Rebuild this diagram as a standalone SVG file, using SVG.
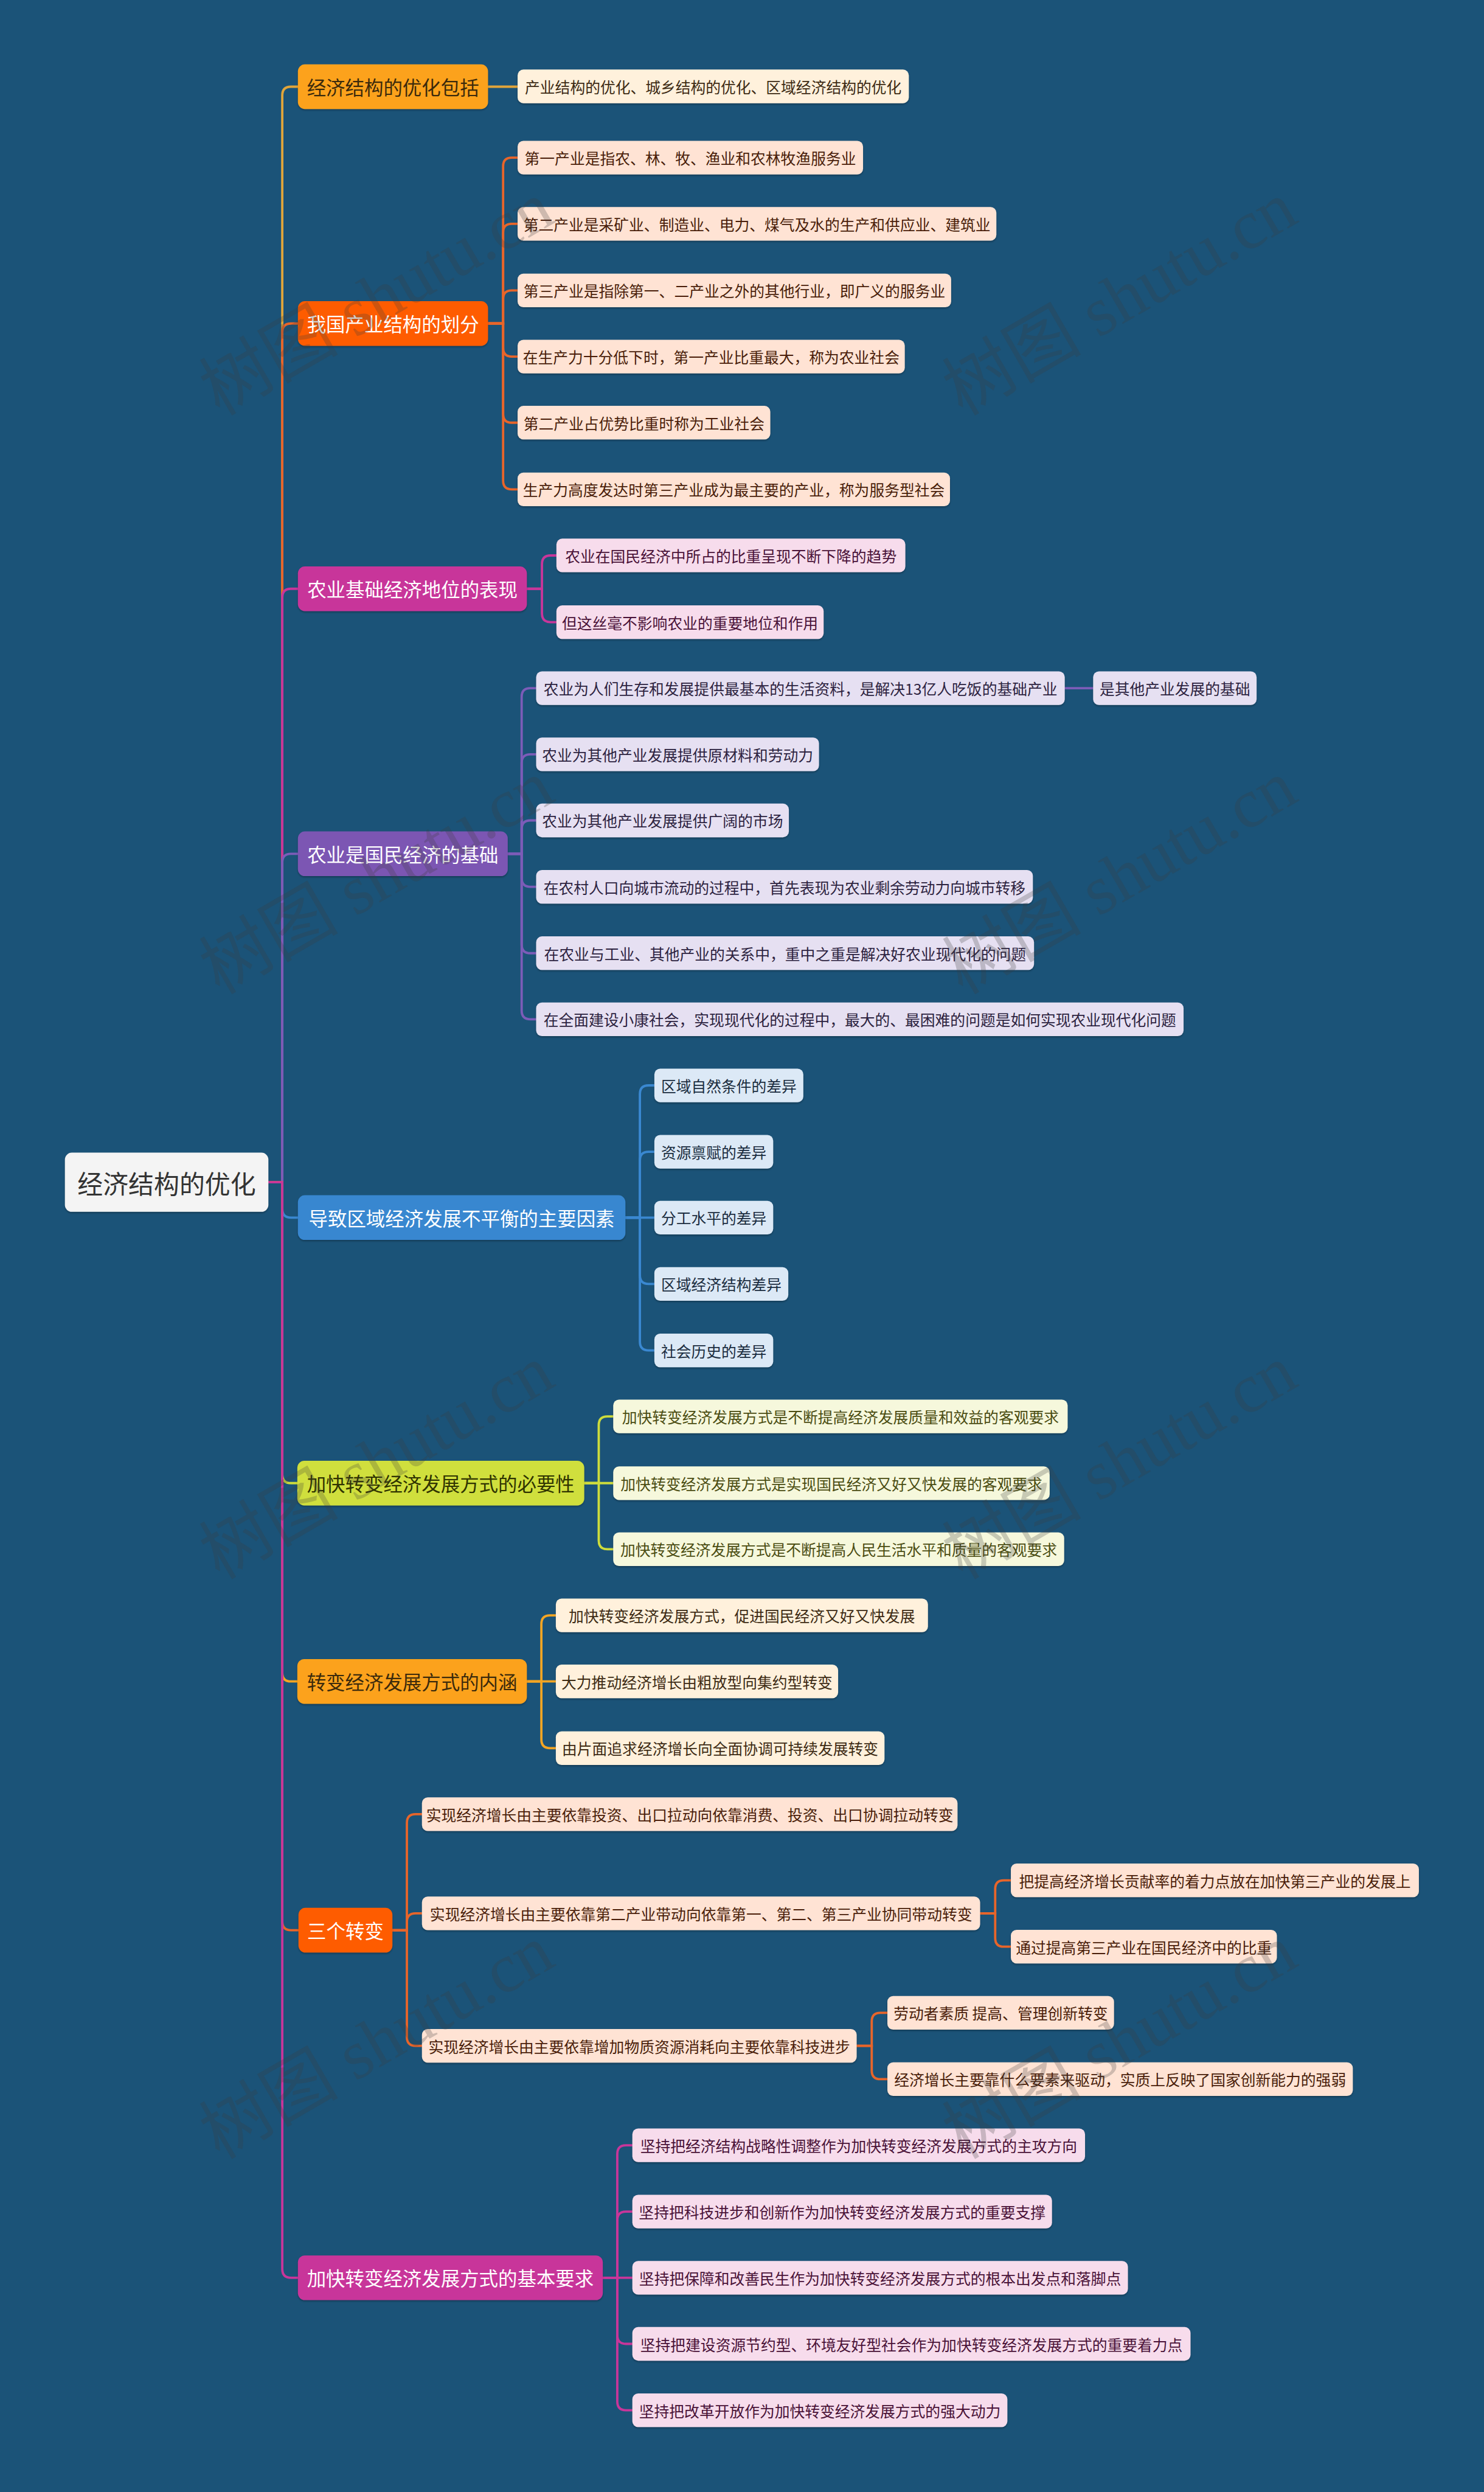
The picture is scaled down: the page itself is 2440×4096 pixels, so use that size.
<svg xmlns="http://www.w3.org/2000/svg" width="2440" height="4096" viewBox="0 0 2440 4096">
<defs>
<filter id="sh" x="-5%" y="-20%" width="110%" height="150%"><feDropShadow dx="0" dy="2" stdDeviation="1.5" flood-color="#000" flood-opacity="0.3"/></filter>
</defs>
<style>
.t{font-family:"Noto Sans CJK SC","Noto Sans",sans-serif;dominant-baseline:central;text-anchor:middle}
.lt{font-size:26px}
.bt{font-size:33px}
.rt{font-size:44px;fill:#333}
.n rect{filter:url(#sh)}
.k path{fill:none;stroke-width:4;stroke-linecap:round}
.wm{font-family:"Liberation Serif","Noto Sans CJK SC",serif;font-size:120px;fill:#3a3a3a;fill-opacity:.25;text-anchor:middle;dominant-baseline:central}
.bo rect{fill:#fca21d}.bo text{fill:#3b2a0c}
.br rect{fill:#fe5c02}.br text{fill:#fff}
.bm rect{fill:#c8369a}.bm text{fill:#fff}
.bp rect{fill:#7c56b3}.bp text{fill:#fff}
.bb rect{fill:#3887d0}.bb text{fill:#fff}
.bl rect{fill:#d0df3c}.bl text{fill:#2f3300}
.c1 rect{fill:#fff1dc}.c1 text{fill:#3d2b14}
.c2 rect{fill:#ffe3d4}.c2 text{fill:#4a1e0a}
.c3 rect{fill:#f7dcec}.c3 text{fill:#4a1238}
.c4 rect{fill:#e6e0f2}.c4 text{fill:#2d2340}
.c5 rect{fill:#dce9f6}.c5 text{fill:#1b2d40}
.c6 rect{fill:#f6f8dc}.c6 text{fill:#4b4d12}
</style>
<rect width="2440" height="4096" fill="#1b5378"/>
<g transform="scale(0.953)">
<g id="connectors" class="k">
<path stroke="#e1a53a" d="M463 2039H487V164.5Q487 149.5 502 149.5H514"/>
<path stroke="#e8652a" d="M463 2039H487V573Q487 558 502 558H514"/>
<path stroke="#c8369a" d="M463 2039H487V1030.5Q487 1015.5 502 1015.5H514"/>
<path stroke="#7c5cb8" d="M463 2039H487V1487.5Q487 1472.5 502 1472.5H514"/>
<path stroke="#3a88d1" d="M463 2039H487V2085Q487 2100 502 2100H514"/>
<path stroke="#cddc3c" d="M463 2039H487V2543Q487 2558 502 2558H513"/>
<path stroke="#f3a523" d="M463 2039H487V2885Q487 2900 502 2900H513"/>
<path stroke="#e8652a" d="M463 2039H487V3314Q487 3329 502 3329H515"/>
<path stroke="#c8369a" d="M463 2039H487V3913.5Q487 3928.5 502 3928.5H514"/>
<path stroke="#e1a53a" d="M842 149.5H893"/>
<path stroke="#e8652a" d="M842 558H868V287Q868 272 883 272H893"/>
<path stroke="#e8652a" d="M842 558H868V401Q868 386 883 386H893"/>
<path stroke="#e8652a" d="M842 558H868V516Q868 501 883 501H893"/>
<path stroke="#e8652a" d="M842 558H868V600Q868 615 883 615H893"/>
<path stroke="#e8652a" d="M842 558H868V714Q868 729 883 729H893"/>
<path stroke="#e8652a" d="M842 558H868V829Q868 844 883 844H893"/>
<path stroke="#c8369a" d="M909 1015.5H935V973Q935 958 950 958H960"/>
<path stroke="#c8369a" d="M909 1015.5H935V1058Q935 1073 950 1073H960"/>
<path stroke="#7c5cb8" d="M876 1472.5H900V1202Q900 1187 915 1187H925"/>
<path stroke="#7c5cb8" d="M876 1472.5H900V1316Q900 1301 915 1301H925"/>
<path stroke="#7c5cb8" d="M876 1472.5H900V1430Q900 1415 915 1415H925"/>
<path stroke="#7c5cb8" d="M876 1472.5H900V1514.5Q900 1529.5 915 1529.5H925"/>
<path stroke="#7c5cb8" d="M876 1472.5H900V1629Q900 1644 915 1644H925"/>
<path stroke="#7c5cb8" d="M876 1472.5H900V1743Q900 1758 915 1758H925"/>
<path stroke="#7c5cb8" d="M1837 1187H1886"/>
<path stroke="#3a88d1" d="M1079 2100H1104V1887Q1104 1872 1119 1872H1129"/>
<path stroke="#3a88d1" d="M1079 2100H1104V2001.5Q1104 1986.5 1119 1986.5H1129"/>
<path stroke="#3a88d1" d="M1079 2100H1129"/>
<path stroke="#3a88d1" d="M1079 2100H1104V2199.5Q1104 2214.5 1119 2214.5H1129"/>
<path stroke="#3a88d1" d="M1079 2100H1104V2314Q1104 2329 1119 2329H1129"/>
<path stroke="#cddc3c" d="M1008 2558H1033V2458Q1033 2443 1048 2443H1058"/>
<path stroke="#cddc3c" d="M1008 2558H1058"/>
<path stroke="#cddc3c" d="M1008 2558H1033V2657Q1033 2672 1048 2672H1058"/>
<path stroke="#f3a523" d="M909 2900H934V2801Q934 2786 949 2786H959"/>
<path stroke="#f3a523" d="M909 2900H959"/>
<path stroke="#f3a523" d="M909 2900H934V3000Q934 3015 949 3015H959"/>
<path stroke="#e8652a" d="M677 3329H702V3144Q702 3129 717 3129H728"/>
<path stroke="#e8652a" d="M677 3329H702V3315Q702 3300 717 3300H728"/>
<path stroke="#e8652a" d="M677 3329H702V3513.5Q702 3528.5 717 3528.5H728"/>
<path stroke="#e8652a" d="M1691 3300H1717V3258Q1717 3243 1732 3243H1744"/>
<path stroke="#e8652a" d="M1691 3300H1717V3342.5Q1717 3357.5 1732 3357.5H1744"/>
<path stroke="#e8652a" d="M1478 3528.5H1504V3486.5Q1504 3471.5 1519 3471.5H1531"/>
<path stroke="#e8652a" d="M1478 3528.5H1504V3571Q1504 3586 1519 3586H1531"/>
<path stroke="#c8369a" d="M1040 3928.5H1065V3715Q1065 3700 1080 3700H1091"/>
<path stroke="#c8369a" d="M1040 3928.5H1065V3829.5Q1065 3814.5 1080 3814.5H1091"/>
<path stroke="#c8369a" d="M1040 3928.5H1091"/>
<path stroke="#c8369a" d="M1040 3928.5H1065V4027.5Q1065 4042.5 1080 4042.5H1091"/>
<path stroke="#c8369a" d="M1040 3928.5H1065V4142Q1065 4157 1080 4157H1091"/>
</g>

<g id="root" class="n"><rect x="112" y="1988" width="351" height="102" rx="12" fill="#f4f4f4"/><text x="287.5" y="2039" class="t rt">经济结构的优化</text></g>

<g id="b1" class="n bo"><rect x="514" y="111" width="328" height="77" rx="12"/><text x="678" y="149.5" class="t bt">经济结构的优化包括</text></g>
<g id="b2" class="n br"><rect x="514" y="519.5" width="328" height="77" rx="12"/><text x="678" y="558" class="t bt">我国产业结构的划分</text></g>
<g id="b3" class="n bm"><rect x="514" y="977" width="395" height="77" rx="12"/><text x="711.5" y="1015.5" class="t bt">农业基础经济地位的表现</text></g>
<g id="b4" class="n bp"><rect x="514" y="1434" width="362" height="77" rx="12"/><text x="695" y="1472.5" class="t bt">农业是国民经济的基础</text></g>
<g id="b5" class="n bb"><rect x="514" y="2061.5" width="565" height="77" rx="12"/><text x="796.5" y="2100" class="t bt">导致区域经济发展不平衡的主要因素</text></g>
<g id="b6" class="n bl"><rect x="513" y="2519.5" width="495" height="77" rx="12"/><text x="760.5" y="2558" class="t bt">加快转变经济发展方式的必要性</text></g>
<g id="b7" class="n bo"><rect x="513" y="2861.5" width="396" height="77" rx="12"/><text x="711" y="2900" class="t bt">转变经济发展方式的内涵</text></g>
<g id="b8" class="n br"><rect x="515" y="3290.5" width="162" height="77" rx="12"/><text x="596" y="3329" class="t bt">三个转变</text></g>
<g id="b9" class="n bm"><rect x="514" y="3890" width="526" height="77" rx="12"/><text x="777" y="3928.5" class="t bt">加快转变经济发展方式的基本要求</text></g>

<g id="l1-1" class="n c1"><rect x="893" y="120" width="675" height="58" rx="10"/><text x="1230.5" y="149" class="t lt">产业结构的优化、城乡结构的优化、区域经济结构的优化</text></g>

<g id="l2-1" class="n c2"><rect x="893" y="243" width="596" height="58" rx="10"/><text x="1191" y="272" class="t lt">第一产业是指农、林、牧、渔业和农林牧渔服务业</text></g>
<g id="l2-2" class="n c2"><rect x="893" y="357" width="826" height="58" rx="10"/><text x="1306" y="386" class="t lt">第二产业是采矿业、制造业、电力、煤气及水的生产和供应业、建筑业</text></g>
<g id="l2-3" class="n c2"><rect x="893" y="472" width="748" height="58" rx="10"/><text x="1267" y="501" class="t lt">第三产业是指除第一、二产业之外的其他行业，即广义的服务业</text></g>
<g id="l2-4" class="n c2"><rect x="893" y="586" width="668" height="58" rx="10"/><text x="1227" y="615" class="t lt">在生产力十分低下时，第一产业比重最大，称为农业社会</text></g>
<g id="l2-5" class="n c2"><rect x="893" y="700" width="436" height="58" rx="10"/><text x="1111" y="729" class="t lt">第二产业占优势比重时称为工业社会</text></g>
<g id="l2-6" class="n c2"><rect x="893" y="815" width="746" height="58" rx="10"/><text x="1266" y="844" class="t lt">生产力高度发达时第三产业成为最主要的产业，称为服务型社会</text></g>

<g id="l3-1" class="n c3"><rect x="960" y="929" width="602" height="58" rx="10"/><text x="1261" y="958" class="t lt">农业在国民经济中所占的比重呈现不断下降的趋势</text></g>
<g id="l3-2" class="n c3"><rect x="960" y="1044" width="461" height="58" rx="10"/><text x="1190.5" y="1073" class="t lt">但这丝毫不影响农业的重要地位和作用</text></g>

<g id="l4-1" class="n c4"><rect x="925" y="1158" width="912" height="58" rx="10"/><text x="1381" y="1187" class="t lt">农业为人们生存和发展提供最基本的生活资料，是解决13亿人吃饭的基础产业</text></g>
<g id="l4-1a" class="n c4"><rect x="1886" y="1158" width="282" height="58" rx="10"/><text x="2027" y="1187" class="t lt">是其他产业发展的基础</text></g>
<g id="l4-2" class="n c4"><rect x="925" y="1272" width="488" height="58" rx="10"/><text x="1169" y="1301" class="t lt">农业为其他产业发展提供原材料和劳动力</text></g>
<g id="l4-3" class="n c4"><rect x="925" y="1386" width="436" height="58" rx="10"/><text x="1143" y="1415" class="t lt">农业为其他产业发展提供广阔的市场</text></g>
<g id="l4-4" class="n c4"><rect x="925" y="1500.5" width="857" height="58" rx="10"/><text x="1353.5" y="1529.5" class="t lt">在农村人口向城市流动的过程中，首先表现为农业剩余劳动力向城市转移</text></g>
<g id="l4-5" class="n c4"><rect x="925" y="1615" width="859" height="58" rx="10"/><text x="1354.5" y="1644" class="t lt">在农业与工业、其他产业的关系中，重中之重是解决好农业现代化的问题</text></g>
<g id="l4-6" class="n c4"><rect x="925" y="1729" width="1117" height="58" rx="10"/><text x="1483.5" y="1758" class="t lt">在全面建设小康社会，实现现代化的过程中，最大的、最困难的问题是如何实现农业现代化问题</text></g>

<g id="l5-1" class="n c5"><rect x="1129" y="1843" width="257" height="58" rx="10"/><text x="1257.5" y="1872" class="t lt">区域自然条件的差异</text></g>
<g id="l5-2" class="n c5"><rect x="1129" y="1957.5" width="205" height="58" rx="10"/><text x="1231.5" y="1986.5" class="t lt">资源禀赋的差异</text></g>
<g id="l5-3" class="n c5"><rect x="1129" y="2071" width="205" height="58" rx="10"/><text x="1231.5" y="2100" class="t lt">分工水平的差异</text></g>
<g id="l5-4" class="n c5"><rect x="1129" y="2185.5" width="231" height="58" rx="10"/><text x="1244.5" y="2214.5" class="t lt">区域经济结构差异</text></g>
<g id="l5-5" class="n c5"><rect x="1129" y="2300" width="205" height="58" rx="10"/><text x="1231.5" y="2329" class="t lt">社会历史的差异</text></g>

<g id="l6-1" class="n c6"><rect x="1058" y="2414" width="784" height="58" rx="10"/><text x="1450" y="2443" class="t lt">加快转变经济发展方式是不断提高经济发展质量和效益的客观要求</text></g>
<g id="l6-2" class="n c6"><rect x="1058" y="2529" width="753" height="58" rx="10"/><text x="1434.5" y="2558" class="t lt">加快转变经济发展方式是实现国民经济又好又快发展的客观要求</text></g>
<g id="l6-3" class="n c6"><rect x="1058" y="2643" width="778" height="58" rx="10"/><text x="1447" y="2672" class="t lt">加快转变经济发展方式是不断提高人民生活水平和质量的客观要求</text></g>

<g id="l7-1" class="n c1"><rect x="959" y="2757" width="642" height="58" rx="10"/><text x="1280" y="2786" class="t lt">加快转变经济发展方式，促进国民经济又好又快发展</text></g>
<g id="l7-2" class="n c1"><rect x="959" y="2871" width="487" height="58" rx="10"/><text x="1202.5" y="2900" class="t lt">大力推动经济增长由粗放型向集约型转变</text></g>
<g id="l7-3" class="n c1"><rect x="959" y="2986" width="567" height="58" rx="10"/><text x="1242.5" y="3015" class="t lt">由片面追求经济增长向全面协调可持续发展转变</text></g>

<g id="l8-1" class="n c2"><rect x="728" y="3100" width="924" height="58" rx="10"/><text x="1190" y="3129" class="t lt">实现经济增长由主要依靠投资、出口拉动向依靠消费、投资、出口协调拉动转变</text></g>
<g id="l8-2" class="n c2"><rect x="728" y="3271" width="963" height="58" rx="10"/><text x="1209.5" y="3300" class="t lt">实现经济增长由主要依靠第二产业带动向依靠第一、第二、第三产业协同带动转变</text></g>
<g id="l8-2a" class="n c2"><rect x="1744" y="3214" width="704" height="58" rx="10"/><text x="2096" y="3243" class="t lt">把提高经济增长贡献率的着力点放在加快第三产业的发展上</text></g>
<g id="l8-2b" class="n c2"><rect x="1744" y="3328.5" width="459" height="58" rx="10"/><text x="1973.5" y="3357.5" class="t lt">通过提高第三产业在国民经济中的比重</text></g>
<g id="l8-3" class="n c2"><rect x="728" y="3499.5" width="750" height="58" rx="10"/><text x="1103" y="3528.5" class="t lt">实现经济增长由主要依靠增加物质资源消耗向主要依靠科技进步</text></g>
<g id="l8-3a" class="n c2"><rect x="1531" y="3442.5" width="391" height="58" rx="10"/><text x="1726.5" y="3471.5" class="t lt">劳动者素质 提高、管理创新转变</text></g>
<g id="l8-3b" class="n c2"><rect x="1531" y="3557" width="803" height="58" rx="10"/><text x="1932.5" y="3586" class="t lt">经济增长主要靠什么要素来驱动，实质上反映了国家创新能力的强弱</text></g>

<g id="l9-1" class="n c3"><rect x="1091" y="3671" width="781" height="58" rx="10"/><text x="1481.5" y="3700" class="t lt">坚持把经济结构战略性调整作为加快转变经济发展方式的主攻方向</text></g>
<g id="l9-2" class="n c3"><rect x="1091" y="3785.5" width="724" height="58" rx="10"/><text x="1453" y="3814.5" class="t lt">坚持把科技进步和创新作为加快转变经济发展方式的重要支撑</text></g>
<g id="l9-3" class="n c3"><rect x="1091" y="3899.5" width="855" height="58" rx="10"/><text x="1518.5" y="3928.5" class="t lt">坚持把保障和改善民生作为加快转变经济发展方式的根本出发点和落脚点</text></g>
<g id="l9-4" class="n c3"><rect x="1091" y="4013.5" width="963" height="58" rx="10"/><text x="1572.5" y="4042.5" class="t lt">坚持把建设资源节约型、环境友好型社会作为加快转变经济发展方式的重要着力点</text></g>
<g id="l9-5" class="n c3"><rect x="1091" y="4128" width="647" height="58" rx="10"/><text x="1414.5" y="4157" class="t lt">坚持把改革开放作为加快转变经济发展方式的强大动力</text></g>

<g id="watermarks">
<text class="wm" transform="translate(650 515) rotate(-30)">树图 shutu.cn</text>
<text class="wm" transform="translate(1932 515) rotate(-30)">树图 shutu.cn</text>
<text class="wm" transform="translate(650 1513) rotate(-30)">树图 shutu.cn</text>
<text class="wm" transform="translate(1932 1513) rotate(-30)">树图 shutu.cn</text>
<text class="wm" transform="translate(650 2522) rotate(-30)">树图 shutu.cn</text>
<text class="wm" transform="translate(1932 2522) rotate(-30)">树图 shutu.cn</text>
<text class="wm" transform="translate(650 3522) rotate(-30)">树图 shutu.cn</text>
<text class="wm" transform="translate(1932 3522) rotate(-30)">树图 shutu.cn</text>
</g>
</g>
</svg>
